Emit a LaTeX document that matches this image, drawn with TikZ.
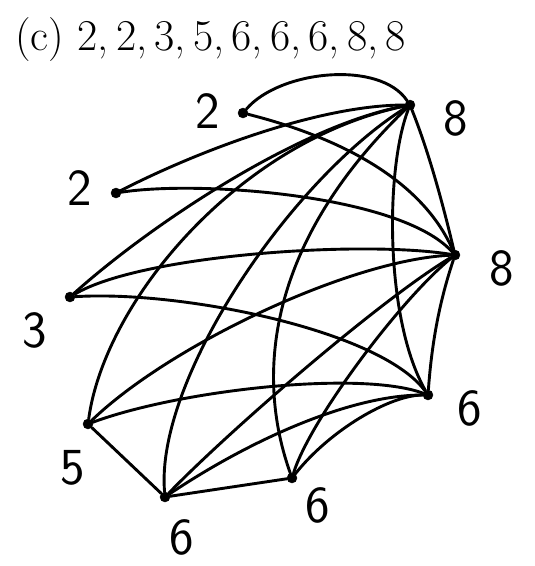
\documentclass[tikz,border=0pt]{standalone}
\usepackage{fontspec}
\usepackage{tikz}

\begin{document}
\begin{tikzpicture}[x=1pt,y=-1pt,
		vertex/.style={circle, fill=black, draw=black, inner sep=0pt, minimum size=10pt},
		link/.style={line width=2.9pt, line cap=round, line join=round},
		deg/.style={font=\fontsize{52}{52}\sffamily, inner sep=0pt}]
		\useasboundingbox (0,0) rectangle (535,566);
		\node[anchor=base west, inner sep=0pt, font=\fontsize{44}{50}\selectfont] (title) at (15,50) {(c) 2,\,2,\,3,\,5,\,6,\,6,\,6,\,8,\,8};

		\node[vertex] (a) at (243,113) {};
		\node[vertex] (b) at (116,193) {};
		\node[vertex] (c) at (70,297) {};
		\node[vertex] (d) at (88,424) {};
		\node[vertex] (e) at (165,497) {};
		\node[vertex] (f) at (292,478) {};
		\node[vertex] (g) at (428,395) {};
		\node[vertex] (h) at (455,255) {};
		\node[vertex] (i) at (410,105) {};

		\node[deg] (la) at (208,111) {2};
		\node[deg] (lb) at (80,188) {2};
		\node[deg] (lc) at (35,330) {3};
		\node[deg] (ld) at (73,468) {5};
		\node[deg] (le) at (182,537) {6};
		\node[deg] (lf) at (318,505) {6};
		\node[deg] (lg) at (470,408) {6};
		\node[deg] (lh) at (502,268) {8};
		\node[deg] (li) at (456,118) {8};

		\draw[link] (a) .. controls (280,70) and (380,60) .. (i);
		\draw[link] (a) .. controls (330,135) and (420,175) .. (h);
		\draw[link] (b) .. controls (200,150) and (320,105) .. (i);
		\draw[link] (b) .. controls (200,180) and (400,195) .. (h);
		\draw[link] (c) .. controls (150,225) and (300,125) .. (i);
		\draw[link] (c) .. controls (140,255) and (360,240) .. (h);
		\draw[link] (c) .. controls (180,290) and (380,330) .. (g);
		\draw[link] (d) .. controls (105,300) and (240,140) .. (i);
		\draw[link] (d) .. controls (170,345) and (350,260) .. (h);
		\draw[link] (d) .. controls (180,390) and (360,370) .. (g);
		\draw[link] (d) -- (e);
		\draw[link] (e) .. controls (155,380) and (290,180) .. (i);
		\draw[link] (e) .. controls (230,430) and (380,300) .. (h);
		\draw[link] (e) .. controls (250,440) and (350,395) .. (g);
		\draw[link] (e) -- (f);
		\draw[link] (f) .. controls (250,360) and (280,230) .. (i);
		\draw[link] (f) .. controls (310,420) and (400,300) .. (h);
		\draw[link] (f) .. controls (330,430) and (390,395) .. (g);
		\draw[link] (g) .. controls (385,320) and (385,170) .. (i);
		\draw[link] (g) .. controls (432,340) and (440,300) .. (h);
		\draw[link] (h) .. controls (442,200) and (428,150) .. (i);
	\end{tikzpicture}
\end{document}
